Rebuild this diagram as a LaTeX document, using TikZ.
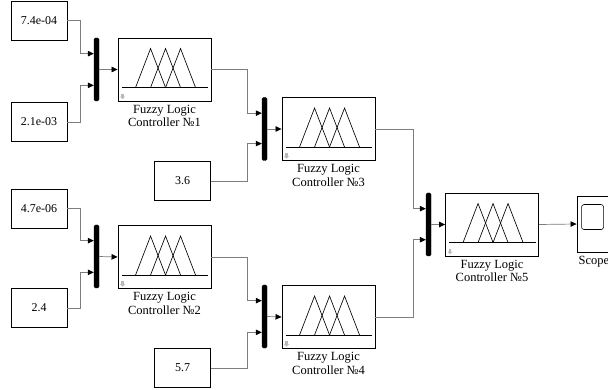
\documentclass[tikz,border=0pt]{standalone}
\usepackage{fontspec}
\setmainfont{Liberation Serif}
\usetikzlibrary{arrows.meta,calc}
\definecolor{wiregray}{RGB}{125,125,125}
\tikzset{
  blk/.style={draw=black, line width=0.9pt, fill=white, minimum width=56pt, minimum height=39pt, inner sep=0pt, font=\fontsize{12}{13}\selectfont},
  flc/.style={draw=black, line width=0.9pt, fill=white, minimum width=93pt, minimum height=63pt, inner sep=0pt},
  muxbar/.style={draw=black, fill=black, rounded corners=1.5pt, minimum width=5pt, minimum height=63pt, inner sep=0pt},
  scopebox/.style={draw=black, line width=0.9pt, fill=white, minimum width=34pt, minimum height=56pt, inner sep=0pt},
  wire/.style={draw=wiregray, line width=0.7pt, -{Triangle[length=6pt,width=5.5pt,black]}},
  lbl/.style={font=\fontsize{12.5}{13.5}\selectfont, align=center, inner sep=0pt, anchor=north},
  mf/.style={line width=0.65pt, line join=miter}
}
\newcommand\fuzzyicon[1]{%
  \draw[line width=0.8pt] ($(#1.north west)+(4,50)$) -- ($(#1.north east)+(-3,50)$);
  \foreach \o in {18,33,48}{%
    \draw[mf] ($(#1.north west)+(\o,50)$) -- ($(#1.north west)+(\o+15,11)$) -- ($(#1.north west)+(\o+30,50)$);
  }
  \fill[gray!55] ($(#1.south west)+(3.8,-7.5)$) rectangle ($(#1.south west)+(6.2,-4.8)$);
  \fill[gray!55] ($(#1.south west)+(2.6,-4.8)$) -- ($(#1.south west)+(7.4,-4.8)$) -- ($(#1.south west)+(5,-2.2)$) -- cycle;
}
\begin{document}
\begin{tikzpicture}[x=1pt,y=-1pt]
\clip (0,0) rectangle (608,390);
\fill[white] (0,0) rectangle (608,390);

% constant blocks
\node[blk] (c1) at (39,20.5) {7.4e-04};
\node[blk] (c2) at (39,122) {2.1e-03};
\node[blk] (c3) at (182.5,181) {3.6};
\node[blk] (c4) at (39,208.5) {4.7e-06};
\node[blk] (c5) at (39,308) {2.4};
\node[blk] (c6) at (182.5,368) {5.7};

% mux bars
\node[muxbar] (m1) at (96.5,69.5) {};
\node[muxbar] (m2) at (96.5,256.5) {};
\node[muxbar] (m3) at (264.5,129) {};
\node[muxbar] (m4) at (264.5,316.5) {};
\node[muxbar] (m5) at (428.5,224.5) {};

% fuzzy logic controllers
\node[flc] (f1) at (164.5,69.5) {};
\node[flc] (f2) at (164.5,257) {};
\node[flc] (f3) at (328.5,129) {};
\node[flc] (f4) at (328.5,317) {};
\node[flc] (f5) at (492,224.5) {};
\fuzzyicon{f1}
\fuzzyicon{f2}
\fuzzyicon{f3}
\fuzzyicon{f4}
\fuzzyicon{f5}

\node[lbl] (l1) at ($(f1.south)+(0,3.5)$) {Fuzzy Logic\\Controller №1};
\node[lbl] (l2) at ($(f2.south)+(0,3.5)$) {Fuzzy Logic\\Controller №2};
\node[lbl] (l3) at ($(f3.south)+(0,3.5)$) {Fuzzy Logic\\Controller №3};
\node[lbl] (l4) at ($(f4.south)+(0,3.5)$) {Fuzzy Logic\\Controller №4};
\node[lbl] (l5) at ($(f5.south)+(0,3.5)$) {Fuzzy Logic\\Controller №5};

% scope
\node[scopebox] (sc) at (594,224) {};
\draw[line width=0.6pt, rounded corners=2.5pt] ($(sc.north west)+(5,9)$) rectangle ($(sc.north west)+(27,34)$);
\node[lbl] (lsc) at ($(sc.south)+(0,4)$) {Scope};

% mux input points
\coordinate (m1a) at ($(m1.north west)!0.25!(m1.south west)$);
\coordinate (m1b) at ($(m1.north west)!0.75!(m1.south west)$);
\coordinate (m2a) at ($(m2.north west)!0.25!(m2.south west)$);
\coordinate (m2b) at ($(m2.north west)!0.75!(m2.south west)$);
\coordinate (m3a) at ($(m3.north west)!0.25!(m3.south west)$);
\coordinate (m3b) at ($(m3.north west)!0.73!(m3.south west)$);
\coordinate (m4a) at ($(m4.north west)!0.25!(m4.south west)$);
\coordinate (m4b) at ($(m4.north west)!0.75!(m4.south west)$);
\coordinate (m5a) at ($(m5.north west)!0.25!(m5.south west)$);
\coordinate (m5b) at ($(m5.north west)!0.74!(m5.south west)$);

% wires
\draw[wire] (c1.east) -- ++(13,0) |- (m1a);
\draw[wire] (c2.east) -- ++(13,0) |- (m1b);
\draw[wire] (m1.east) -- (f1.west);
\draw[wire] (c4.east) -- ++(13,0) |- (m2a);
\draw[wire] (c5.east) -- ++(13,0) |- (m2b);
\draw[wire] (m2.east) -- (f2.west);
\draw[wire] (f1.east) -- ++(36,0) |- (m3a);
\draw[wire] (c3.east) -- ++(36,0) |- (m3b);
\draw[wire] (m3.east) -- (f3.west);
\draw[wire] (f2.east) -- ++(36,0) |- (m4a);
\draw[wire] (c6.east) -- ++(36,0) |- (m4b);
\draw[wire] (m4.east) -- (f4.west);
\draw[wire] (f3.east) -- ++(38,0) |- (m5a);
\draw[wire] (f4.east) -- ++(38,0) |- (m5b);
\draw[wire] (m5.east) -- (f5.west);
\draw[wire] (f5.east) -- (sc.west);
\end{tikzpicture}
\end{document}
